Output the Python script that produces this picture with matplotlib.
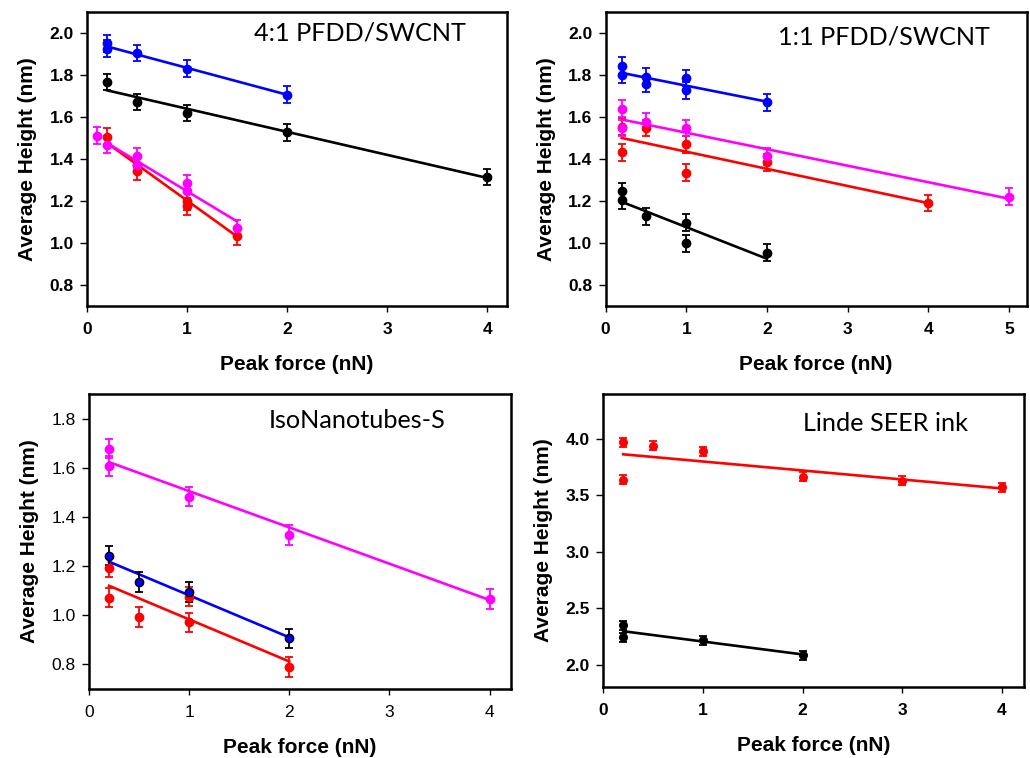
import matplotlib
matplotlib.use("Agg")
import matplotlib.pyplot as plt

plt.rcParams["font.family"] = ["Liberation Sans", "DejaVu Sans"]

BLUE = "#0000ff"
BLACK = "#000000"
RED = "#ff0000"
MAGENTA = "#ff00ff"

## 4:1 PFDD/SWCNT
a_blue_x = [0.2, 0.2, 0.5, 1, 2]
a_blue_y = [1.950, 1.925, 1.905, 1.829, 1.706]
a_blue_fit_x = [0.2, 2]
a_blue_fit_y = [1.936, 1.706]
a_black_x = [0.2, 0.5, 1, 2, 4]
a_black_y = [1.767, 1.671, 1.619, 1.527, 1.314]
a_black_fit_x = [0.2, 4]
a_black_fit_y = [1.727, 1.310]
a_mag_x = [0.1, 0.2, 0.5, 0.5, 1, 1, 1.5]
a_mag_y = [1.511, 1.468, 1.412, 1.373, 1.286, 1.246, 1.071]
a_mag_fit_x = [0.2, 1.5]
a_mag_fit_y = [1.476, 1.103]
a_red_x = [0.2, 0.5, 0.5, 1, 1, 1.5]
a_red_y = [1.507, 1.373, 1.341, 1.198, 1.174, 1.031]
a_red_fit_x = [0.2, 1.5]
a_red_fit_y = [1.476, 1.031]

## 1:1 PFDD/SWCNT
b_blue_x = [0.2, 0.2, 0.5, 0.5, 1, 1, 2]
b_blue_y = [1.844, 1.802, 1.791, 1.757, 1.786, 1.727, 1.670]
b_blue_fit_x = [0.2, 2]
b_blue_fit_y = [1.810, 1.673]
b_mag_x = [0.2, 0.2, 0.5, 1, 2, 5]
b_mag_y = [1.640, 1.548, 1.577, 1.548, 1.413, 1.220]
b_mag_fit_x = [0.2, 5]
b_mag_fit_y = [1.588, 1.211]
b_red_x = [0.2, 0.2, 0.5, 1, 1, 2, 4]
b_red_y = [1.553, 1.432, 1.548, 1.469, 1.334, 1.385, 1.190]
b_red_fit_x = [0.2, 4]
b_red_fit_y = [1.500, 1.190]
b_black_x = [0.2, 0.2, 0.5, 1, 1, 2]
b_black_y = [1.247, 1.203, 1.128, 1.096, 0.999, 0.954]
b_black_fit_x = [0.2, 2]
b_black_fit_y = [1.196, 0.925]

## IsoNanotubes-S
c_mag_x = [0.2, 0.2, 1, 2, 4]
c_mag_y = [1.678, 1.606, 1.483, 1.327, 1.066]
c_mag_fit_x = [0.2, 4]
c_mag_fit_y = [1.623, 1.062]
c_blue_x = [0.2, 0.5, 1, 2]
c_blue_y = [1.243, 1.135, 1.095, 0.906]
c_blue_fit_x = [0.2, 2]
c_blue_fit_y = [1.218, 0.910]
c_red_x = [0.2, 0.2, 0.5, 1, 1, 2]
c_red_y = [1.194, 1.072, 0.994, 1.076, 0.971, 0.790]
c_red_fit_x = [0.2, 2]
c_red_fit_y = [1.120, 0.812]

## Linde SEER ink
d_red_x = [0.2, 0.2, 0.5, 1, 2, 3, 4]
d_red_y = [3.970, 3.641, 3.941, 3.891, 3.665, 3.629, 3.571]
d_red_fit_x = [0.2, 4]
d_red_fit_y = [3.865, 3.562]
d_black_x = [0.2, 0.2, 1, 2]
d_black_y = [2.350, 2.244, 2.218, 2.085]
d_black_fit_x = [0.2, 2]
d_black_fit_y = [2.297, 2.091]


def series(ax, x, y, fx, fy, color, err, ms=6.0, edge=None, ecolor=None):
    ax.plot(fx, fy, color=color, lw=1.9, zorder=2)
    ax.errorbar(x, y, yerr=err, fmt="o", color=color, ms=ms,
                mec=edge or color, ecolor=ecolor or color, elinewidth=1.3,
                capsize=3.2, capthick=1.3, zorder=3)


def style(ax, xlim, ylim, yticks, xticks, title, tx, ty, bold=True):
    ax.set_xlim(*xlim)
    ax.set_ylim(*ylim)
    ax.set_xticks(xticks)
    ax.set_yticks(yticks)
    ax.set_yticklabels([f"{v:.1f}" for v in yticks])
    for s in ax.spines.values():
        s.set_linewidth(1.8)
    ax.tick_params(direction="out", width=1, labelsize=12.5)
    ax.tick_params(axis="x", length=4, pad=7.5)
    ax.tick_params(axis="y", length=5, pad=4.5)
    if bold:
        for lab in ax.get_xticklabels() + ax.get_yticklabels():
            lab.set_fontweight("bold")
    ax.set_xlabel("Peak force (nN)", fontsize=15, fontweight="bold", labelpad=13)
    ax.set_ylabel("Average Height (nm)", fontsize=15, fontweight="bold", labelpad=9)
    ax.text(tx, ty, title, transform=ax.transAxes, fontsize=18.2,
            family=["Lato", "DejaVu Sans"], ha="center", va="center")


fig = plt.figure(figsize=(10.3, 7.58), dpi=100)

ax1 = fig.add_axes([0.0845, 0.5963, 0.4078, 0.3879])
series(ax1, a_blue_x, a_blue_y, a_blue_fit_x, a_blue_fit_y, BLUE, 0.04)
series(ax1, a_black_x, a_black_y, a_black_fit_x, a_black_fit_y, BLACK, 0.04)
series(ax1, a_red_x, a_red_y, a_red_fit_x, a_red_fit_y, RED, 0.04)
series(ax1, a_mag_x, a_mag_y, a_mag_fit_x, a_mag_fit_y, MAGENTA, 0.04)
style(ax1, (0, 4.2), (0.7, 2.1), [0.8, 1.0, 1.2, 1.4, 1.6, 1.8, 2.0],
      [0, 1, 2, 3, 4], "4:1 PFDD/SWCNT", 0.65, 0.93)

ax2 = fig.add_axes([0.588, 0.5963, 0.4087, 0.3879])
series(ax2, b_blue_x, b_blue_y, b_blue_fit_x, b_blue_fit_y, BLUE, 0.04)
series(ax2, b_red_x, b_red_y, b_red_fit_x, b_red_fit_y, RED, 0.04)
series(ax2, b_mag_x, b_mag_y, b_mag_fit_x, b_mag_fit_y, MAGENTA, 0.04)
series(ax2, b_black_x, b_black_y, b_black_fit_x, b_black_fit_y, BLACK, 0.04)
style(ax2, (0, 5.22), (0.7, 2.1), [0.8, 1.0, 1.2, 1.4, 1.6, 1.8, 2.0],
      [0, 1, 2, 3, 4, 5], "1:1 PFDD/SWCNT", 0.66, 0.915)

ax3 = fig.add_axes([0.0864, 0.0910, 0.4094, 0.3892])
series(ax3, c_mag_x, c_mag_y, c_mag_fit_x, c_mag_fit_y, MAGENTA, 0.04)
series(ax3, c_red_x, c_red_y, c_red_fit_x, c_red_fit_y, RED, 0.04)
series(ax3, c_blue_x, c_blue_y, c_blue_fit_x, c_blue_fit_y, BLUE, 0.04,
       edge=BLACK, ecolor=BLACK)
style(ax3, (0, 4.21), (0.7, 1.9), [0.8, 1.0, 1.2, 1.4, 1.6, 1.8],
      [0, 1, 2, 3, 4], "IsoNanotubes-S", 0.635, 0.91, bold=False)

ax4 = fig.add_axes([0.5857, 0.0933, 0.4084, 0.3870])
series(ax4, d_red_x, d_red_y, d_red_fit_x, d_red_fit_y, RED, 0.04, ms=5.5)
series(ax4, d_black_x, d_black_y, d_black_fit_x, d_black_fit_y, BLACK, 0.04, ms=5.5)
style(ax4, (0, 4.22), (1.8, 4.4), [2.0, 2.5, 3.0, 3.5, 4.0],
      [0, 1, 2, 3, 4], "Linde SEER ink", 0.67, 0.9)

fig.savefig("out.png", dpi=100)
